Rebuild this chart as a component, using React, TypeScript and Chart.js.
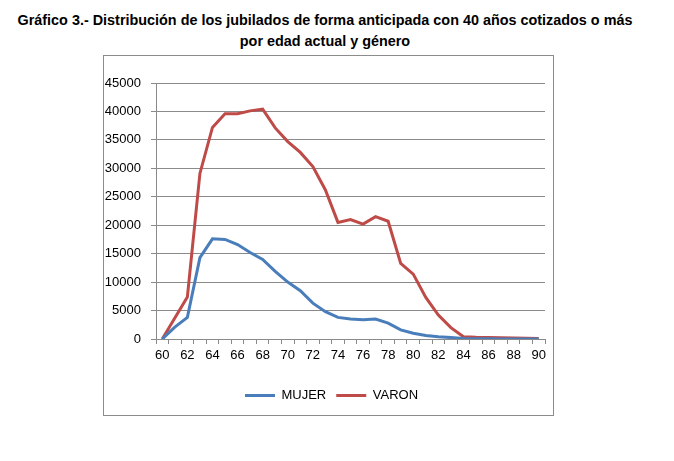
import React, { useEffect, useRef } from "react";
import { Chart, registerables } from "chart.js";

Chart.register(...registerables);

const TITLE_LINE_1 = "Gráfico 3.- Distribución de los jubilados de forma anticipada con 40 años cotizados o más";
const TITLE_LINE_2 = "por edad actual y género";

const ages: string[] = [
  "60", "61", "62", "63", "64", "65", "66", "67", "68", "69", "70",
  "71", "72", "73", "74", "75", "76", "77", "78", "79", "80",
  "81", "82", "83", "84", "85", "86", "87", "88", "89", "90",
];

const mujer: number[] = [
  0, 2100, 3800, 14300, 17600, 17500, 16600, 15200, 14000, 11900, 10000,
  8500, 6300, 4800, 3800, 3500, 3400, 3500, 2800, 1600, 1000,
  600, 400, 250, 100, 50, 30, 20, 10, 5, 0,
];

const varon: number[] = [
  0, 3700, 7400, 29100, 37200, 39600, 39600, 40100, 40400, 37100, 34700,
  32800, 30300, 26200, 20500, 21000, 20200, 21500, 20700, 13300, 11400,
  7300, 4200, 2000, 400, 300, 250, 200, 180, 150, 100,
];

const yTicks = { min: 0, max: 45000, step: 5000 };

const BLUE = "#4A7EBB";
const RED = "#BE4B48";
const GRID = "#8A8A8A";
const FONT = "'Liberation Sans', Arial, sans-serif";

const legendShift = {
  id: "legendShift",
  afterLayout(chart: any) {
    const lg = chart.legend;
    if (lg) {
      lg.left += 7;
      lg.right += 7;
    }
  },
};

export default function App() {
  const canvasRef = useRef<HTMLCanvasElement | null>(null);

  useEffect(() => {
    if (!canvasRef.current) return;
    const chart = new Chart(canvasRef.current, {
      type: "line",
      data: {
        labels: ages,
        datasets: [
          {
            label: "MUJER",
            data: mujer,
            borderColor: BLUE,
            backgroundColor: BLUE,
            borderWidth: 3,
            pointRadius: 0,
            tension: 0,
          },
          {
            label: "VARON",
            data: varon,
            borderColor: RED,
            backgroundColor: RED,
            borderWidth: 3,
            pointRadius: 0,
            tension: 0,
          },
        ],
      },
      plugins: [legendShift],
      options: {
        animation: false,
        responsive: true,
        maintainAspectRatio: false,
        layout: { padding: { top: 27, right: 8, left: 0, bottom: 3 } },
        plugins: {
          title: { display: false },
          tooltip: { enabled: false },
          legend: {
            display: true,
            position: "bottom",
            labels: {
              usePointStyle: true,
              pointStyle: "line",
              pointStyleWidth: 30,
              color: "#000",
              padding: 10,
              font: { family: FONT, size: 13 },
            },
          },
        },
        scales: {
          x: {
            type: "category",
            offset: true,
            grid: {
              display: true,
              offset: true,
              drawOnChartArea: false,
              drawTicks: true,
              tickLength: 5,
              color: GRID,
            },
            border: { display: true, color: GRID },
            ticks: {
              autoSkip: false,
              maxRotation: 0,
              minRotation: 0,
              padding: 4,
              color: "#000",
              font: { family: FONT, size: 13 },
              callback: (_v: any, i: number) => (i % 2 === 0 ? ages[i] : ""),
            },
            afterFit: (scale: any) => {
              scale.height = 40;
            },
          },
          y: {
            min: yTicks.min,
            max: yTicks.max,
            ticks: {
              stepSize: yTicks.step,
              padding: 10,
              color: "#000",
              font: { family: FONT, size: 13 },
              callback: (v: any) => String(v),
            },
            grid: {
              color: GRID,
              tickLength: 5,
              drawTicks: true,
            },
            border: { display: true, color: GRID },
            afterFit: (scale: any) => {
              scale.width = 52;
            },
          },
        },
      },
    });
    return () => chart.destroy();
  }, []);

  return (
    <div
      style={{
        position: "fixed",
        left: 0,
        top: 0,
        width: 674,
        height: 461,
        background: "#fff",
      }}
    >
      <div
        style={{
          position: "absolute",
          left: 0,
          top: 10,
          width: 650,
          textAlign: "center",
          fontFamily: "'Liberation Sans', Arial, sans-serif",
          fontWeight: "bold",
          fontSize: 14.4,
          lineHeight: "21px",
          color: "#000",
        }}
      >
        <div>{TITLE_LINE_1}</div>
        <div>{TITLE_LINE_2}</div>
      </div>
      <div
        style={{
          position: "absolute",
          left: 103,
          top: 55,
          width: 449,
          height: 359,
          border: "1px solid #8C8C8C",
        }}
      >
        <canvas ref={canvasRef} />
      </div>
    </div>
  );
}
